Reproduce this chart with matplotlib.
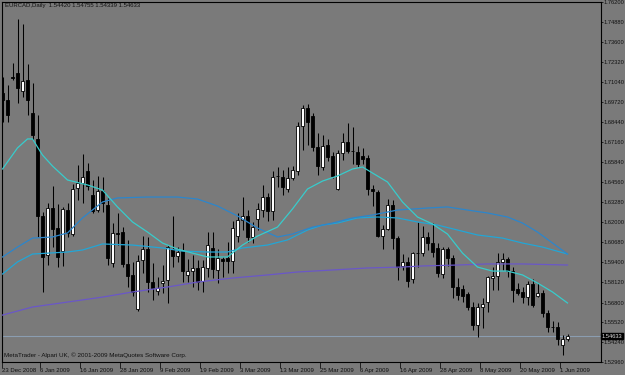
import numpy as np
import matplotlib
matplotlib.use('Agg')
import matplotlib.pyplot as plt
from matplotlib import font_manager as fm
from matplotlib.transforms import blended_transform_factory


# MetaTrader uses a small narrow font; take the narrowest one installed
def pick_font():
    for name, size in [('Liberation Sans Narrow', 4.9), ('Arial Narrow', 4.9),
                       ('Liberation Sans', 4.3)]:
        try:
            fm.findfont(fm.FontProperties(family=name), fallback_to_default=False)
            return name, size
        except Exception:
            pass
    return 'DejaVu Sans', 3.9


font_name, fs = pick_font()
plt.rcParams['font.family'] = [font_name, 'DejaVu Sans']

# daily EURCAD candles, 23 Dec 2008 .. 2 Jun 2009
opens = [1.7033, 1.6987, 1.7136, 1.7162, 1.7045, 1.7116, 1.6903, 1.6736, 1.6239, 1.5987,
         1.6290, 1.6161, 1.6012, 1.6277, 1.6122, 1.6419, 1.6451, 1.6529, 1.6374, 1.6277,
         1.6400, 1.6309, 1.5935, 1.6129, 1.6135, 1.5929, 1.5858, 1.5638, 1.5954, 1.6025,
         1.5812, 1.5754, 1.5806, 1.5825, 1.6025, 1.5980, 1.6012, 1.5858, 1.5883, 1.5903,
         1.5819, 1.5903, 1.6032, 1.5890, 1.5961, 1.5967, 1.5948, 1.6109, 1.6213, 1.6239,
         1.6103, 1.6219, 1.6277, 1.6361, 1.6271, 1.6497, 1.6490, 1.6413, 1.6484, 1.6529,
         1.6819, 1.6936, 1.6884, 1.6684, 1.6555, 1.6697, 1.6626, 1.6413, 1.6645, 1.6716,
         1.6658, 1.6652, 1.6626, 1.6613, 1.6413, 1.6393, 1.6109, 1.6155, 1.6309, 1.6096,
         1.5916, 1.5942, 1.5832, 1.5999, 1.5999, 1.6103, 1.6064, 1.6032, 1.5864, 1.6025,
         1.5967, 1.5780, 1.5767, 1.5735, 1.5651, 1.5535, 1.5651, 1.5683, 1.5838, 1.5851,
         1.5942, 1.5961, 1.5883, 1.5767, 1.5748, 1.5715, 1.5799, 1.5722, 1.5741, 1.5612,
         1.5522, 1.5522, 1.5406, 1.54420]
highs = [1.7136, 1.7084, 1.7226, 1.7510, 1.7478, 1.7220, 1.7097, 1.6890, 1.6264, 1.6322,
         1.6432, 1.6316, 1.6297, 1.6322, 1.6445, 1.6568, 1.6639, 1.6581, 1.6471, 1.6497,
         1.6490, 1.6355, 1.6193, 1.6258, 1.6167, 1.6084, 1.5942, 1.5987, 1.6109, 1.6103,
         1.5935, 1.5845, 1.5922, 1.6051, 1.6239, 1.6038, 1.6064, 1.5961, 1.5987, 1.5954,
         1.5954, 1.6135, 1.6135, 1.6025, 1.5974, 1.6071, 1.6206, 1.6258, 1.6361, 1.6277,
         1.6200, 1.6322, 1.6439, 1.6387, 1.6529, 1.6555, 1.6535, 1.6555, 1.6561, 1.6845,
         1.6955, 1.6962, 1.6903, 1.6774, 1.6761, 1.6736, 1.6652, 1.6665, 1.6774, 1.6839,
         1.6813, 1.6690, 1.6678, 1.6632, 1.6439, 1.6406, 1.6180, 1.6348, 1.6342, 1.6109,
         1.5993, 1.5974, 1.6006, 1.6200, 1.6174, 1.6135, 1.6193, 1.6064, 1.6038, 1.6038,
         1.5987, 1.5838, 1.5793, 1.5748, 1.5683, 1.5677, 1.5709, 1.5851, 1.5909, 1.5999,
         1.5999, 1.5974, 1.5909, 1.5806, 1.5780, 1.5819, 1.5832, 1.5806, 1.5761, 1.5632,
         1.5561, 1.5554, 1.5470, 1.54755]
lows = [1.6845, 1.6845, 1.7116, 1.6968, 1.7007, 1.6890, 1.6729, 1.6103, 1.5748, 1.5922,
        1.6038, 1.5909, 1.5916, 1.6103, 1.6109, 1.6342, 1.6322, 1.6406, 1.6258, 1.6264,
        1.6264, 1.5922, 1.5909, 1.6051, 1.5909, 1.5780, 1.5722, 1.5625, 1.5870, 1.5748,
        1.5696, 1.5728, 1.5741, 1.5677, 1.5909, 1.5942, 1.5812, 1.5812, 1.5780, 1.5761,
        1.5748, 1.5845, 1.5838, 1.5806, 1.5845, 1.5870, 1.5870, 1.6071, 1.6148, 1.6071,
        1.6064, 1.6148, 1.6232, 1.6206, 1.6213, 1.6426, 1.6374, 1.6393, 1.6471, 1.6503,
        1.6665, 1.6697, 1.6658, 1.6503, 1.6535, 1.6594, 1.6484, 1.6406, 1.6600, 1.6645,
        1.6574, 1.6555, 1.6574, 1.6374, 1.6303, 1.6103, 1.6025, 1.6148, 1.6025, 1.5825,
        1.5890, 1.5780, 1.5806, 1.5909, 1.5980, 1.6019, 1.5974, 1.5845, 1.5838, 1.5916,
        1.5709, 1.5696, 1.5683, 1.5632, 1.5502, 1.5457, 1.5515, 1.5619, 1.5761, 1.5761,
        1.5890, 1.5845, 1.5683, 1.5728, 1.5677, 1.5664, 1.5651, 1.5715, 1.5586, 1.5490,
        1.5490, 1.5406, 1.5341, 1.54339]
closes = [1.6987, 1.6890, 1.7129, 1.7065, 1.7110, 1.6987, 1.6761, 1.6239, 1.5974, 1.6290,
          1.6155, 1.5974, 1.6284, 1.6129, 1.6413, 1.6451, 1.6490, 1.6432, 1.6271, 1.6400,
          1.6322, 1.5967, 1.6129, 1.6122, 1.5929, 1.5851, 1.5748, 1.5948, 1.6025, 1.5812,
          1.5774, 1.5774, 1.5819, 1.6038, 1.5980, 1.6006, 1.5883, 1.5883, 1.5903, 1.5812,
          1.5909, 1.6051, 1.5896, 1.5967, 1.5948, 1.5948, 1.6161, 1.6213, 1.6239, 1.6103,
          1.6167, 1.6284, 1.6361, 1.6271, 1.6490, 1.6495, 1.6426, 1.6484, 1.6535, 1.6819,
          1.6936, 1.6845, 1.6684, 1.6561, 1.6690, 1.6619, 1.6497, 1.6645, 1.6716, 1.6658,
          1.6656, 1.6574, 1.6606, 1.6413, 1.6400, 1.6109, 1.6155, 1.6309, 1.6096, 1.5909,
          1.5942, 1.5819, 1.5999, 1.5998, 1.6103, 1.6064, 1.6006, 1.5870, 1.6025, 1.5967,
          1.5780, 1.5728, 1.5722, 1.5651, 1.5535, 1.5651, 1.5670, 1.5845, 1.5851, 1.5942,
          1.5961, 1.5883, 1.5761, 1.5741, 1.5715, 1.5799, 1.5664, 1.5741, 1.5612, 1.5522,
          1.5520, 1.5444, 1.5444, 1.54633]

# moving averages, read at a few bars
ma_fast_x = [0, 3, 5, 6, 8, 10, 13, 17, 20, 23, 26, 29, 32, 35, 38, 41, 45, 48, 51, 55,
             58, 61, 64, 67, 70, 72, 74, 77, 80, 83, 86, 89, 92, 95, 98, 101, 104, 107, 110, 113]
ma_fast = [1.6542, 1.6678, 1.6736, 1.6736, 1.6632, 1.6561, 1.6471, 1.6439, 1.6406, 1.6297,
           1.6200, 1.6135, 1.6064, 1.6025, 1.5999, 1.5974, 1.5974, 1.6051, 1.6109, 1.6167,
           1.6284, 1.6413, 1.6464, 1.6497, 1.6542, 1.6555, 1.6516, 1.6458, 1.6329, 1.6232,
           1.6187, 1.6122, 1.5999, 1.5909, 1.5883, 1.5883, 1.5858, 1.5806, 1.5748, 1.5677]
ma_blue_x = [0, 3, 6, 10, 13, 16, 20, 23, 29, 35, 39, 43, 47, 51, 55, 58, 62, 66, 70, 74,
             79, 85, 89, 93, 97, 101, 104, 107, 110, 113]
ma_blue = [1.5974, 1.6038, 1.6096, 1.6103, 1.6129, 1.6226, 1.6329, 1.6355, 1.6361, 1.6361,
           1.6348, 1.6303, 1.6239, 1.6161, 1.6103, 1.6122, 1.6167, 1.6193, 1.6226, 1.6245,
           1.6277, 1.6290, 1.6297, 1.6277, 1.6258, 1.6232, 1.6193, 1.6135, 1.6064, 1.5993]
ma_cyan_x = [0, 3, 6, 13, 16, 20, 26, 32, 36, 41, 45, 48, 53, 57, 61, 64, 67, 71, 75, 79,
             83, 87, 91, 95, 100, 104, 108, 113]
ma_cyan = [1.5864, 1.5942, 1.5993, 1.6006, 1.6019, 1.6058, 1.6051, 1.6032, 1.6012, 1.6006,
           1.6006, 1.6032, 1.6051, 1.6084, 1.6148, 1.6180, 1.6193, 1.6226, 1.6232, 1.6226,
           1.6200, 1.6180, 1.6148, 1.6116, 1.6096, 1.6064, 1.6038, 1.5993]
ma_slow_x = [0, 6, 13, 20, 26, 33, 39, 46, 53, 59, 66, 73, 80, 84, 91, 97, 104, 113]
ma_slow = [1.5599, 1.5651, 1.5683, 1.5715, 1.5748, 1.5780, 1.5812, 1.5838, 1.5858, 1.5877,
           1.5890, 1.5903, 1.5909, 1.5916, 1.5922, 1.5929, 1.5929, 1.5922]

price_ticks = [1.76200, 1.74880, 1.73600, 1.72320, 1.71040, 1.69720, 1.68440, 1.67160,
               1.65840, 1.64560, 1.63280, 1.62000, 1.60680, 1.59400, 1.58120, 1.56800,
               1.55520, 1.54240, 1.52960]
date_pos = [0, 8, 16, 24, 32, 40, 48, 56, 64, 72, 80, 88, 96, 104, 112]
date_labels = ['23 Dec 2008', '6 Jan 2009', '16 Jan 2009', '28 Jan 2009', '9 Feb 2009',
               '19 Feb 2009', '3 Mar 2009', '13 Mar 2009', '25 Mar 2009', '6 Apr 2009',
               '16 Apr 2009', '28 Apr 2009', '8 May 2009', '20 May 2009', '1 Jun 2009']

bg = '#7a7a7a'
fig = plt.figure(figsize=(6.25, 3.75), dpi=100)
fig.patch.set_facecolor(bg)
ax = fig.add_axes([2/625, 13/375, 599/625, 360/375])
ax.set_facecolor(bg)

o = np.array(opens); h = np.array(highs); l = np.array(lows); c = np.array(closes)
x = np.arange(len(o))

ax.vlines(x, l, h, color='black', lw=0.75, zorder=2)
up = c >= o
body_lo = np.minimum(o, c)
body_h = np.maximum(np.abs(c - o), 0.00025)
ax.bar(x[up], body_h[up], bottom=body_lo[up], width=0.6, color='white',
       edgecolor='black', lw=0.6, zorder=3)
ax.bar(x[~up], body_h[~up], bottom=body_lo[~up], width=0.6, color='black',
       edgecolor='black', lw=0.6, zorder=3)

ax.plot(ma_slow_x, ma_slow, color='#6a57c8', lw=0.9, zorder=4)
ax.plot(ma_cyan_x, ma_cyan, color='#22a6d6', lw=0.9, zorder=4)
ax.plot(ma_blue_x, ma_blue, color='#2c86cc', lw=0.9, zorder=4)
ax.plot(ma_fast_x, ma_fast, color='#38cccc', lw=0.9, zorder=4)

# bid line
ax.axhline(closes[-1], color='#8b9db0', lw=0.8, zorder=1)

ax.set_xlim(-0.1, 119.7)
ax.set_ylim(1.5296, 1.762)

for s in ax.spines.values():
    s.set_color('black')
    s.set_linewidth(0.8)

ax.yaxis.tick_right()
ax.set_yticks(price_ticks)
ax.set_yticklabels(['%.5f' % p for p in price_ticks])
ax.tick_params(axis='y', direction='out', length=1.5, width=0.6, pad=0.4,
               labelsize=fs - 0.15, colors='#111111')

tick_x = [max(p - 0.5, -0.05) for p in date_pos]
ax.set_xticks(tick_x)
ax.set_xticklabels(date_labels)
for lbl in ax.get_xticklabels():
    lbl.set_horizontalalignment('left')
ax.tick_params(axis='x', direction='out', length=4, width=0.6, pad=0.5,
               labelsize=fs, colors='#111111')

# current price box
tr = blended_transform_factory(ax.transAxes, ax.transData)
ax.text(1.0015, closes[-1], '%.5f' % closes[-1], transform=tr, fontsize=fs - 0.15,
        color='#dddddd', va='center', ha='left', zorder=6,
        bbox=dict(boxstyle='square,pad=0.12', fc='black', ec='black'))

fig.text(5/625, 1 - 6/375, 'EURCAD,Daily  1.54420 1.54755 1.54339 1.54633',
         fontsize=fs, color='#111111', va='center', ha='left')
fig.text(4/625, 1 - 355/375,
         'MetaTrader - Alpari UK, \u00a9 2001-2009 MetaQuotes Software Corp.',
         fontsize=fs + 0.2, color='#111111', va='center', ha='left')

fig.savefig('out.png', dpi=100, facecolor=bg)
